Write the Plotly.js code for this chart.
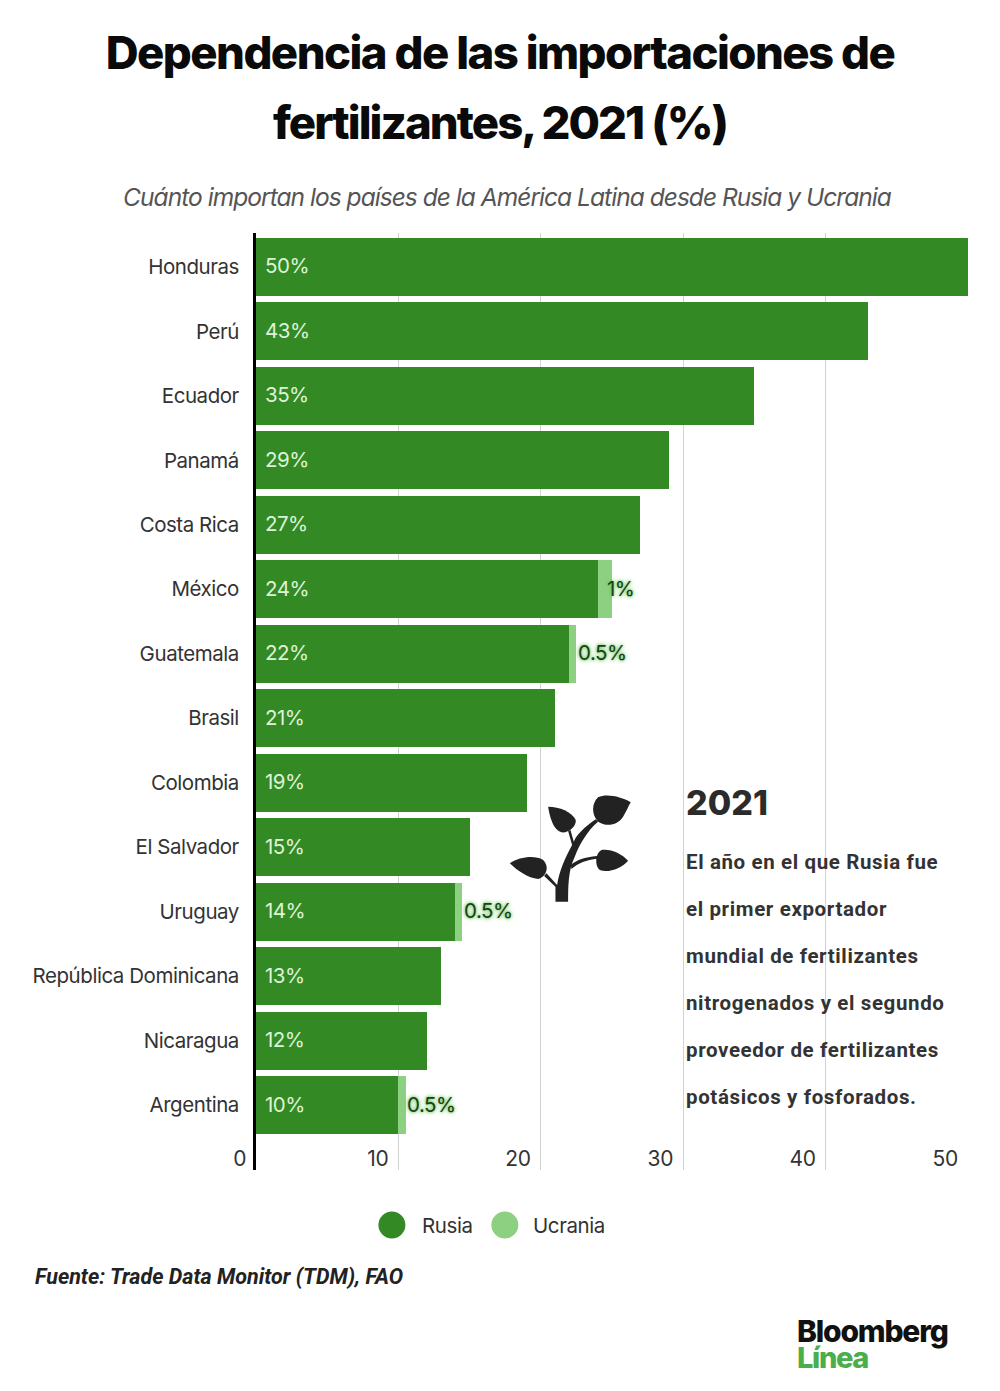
<!DOCTYPE html>
<html><head><meta charset="utf-8">
<script src="https://cdn.plot.ly/plotly-3.0.1.min.js"></script>
<style>
html,body{margin:0;padding:0;background:#fff}
#chart{width:1000px;height:1391px}
.ytick text{letter-spacing:-0.45px}
.xtick text{letter-spacing:-0.3px}
text.gtitle{letter-spacing:-1.55px}
</style></head><body><div id="chart"></div>
<script>
const W = 1000, H = 1391;
const countries = ["Honduras","Perú","Ecuador","Panamá","Costa Rica","México","Guatemala","Brasil","Colombia","El Salvador","Uruguay","República Dominicana","Nicaragua","Argentina"];
const rusia   = [50,43,35,29,27,24,22,21,19,15,14,13,12,10];
const ucrania = [0,0,0,0,0,1,0.5,0,0,0,0.5,0,0,0.5];
const xTicks  = [10,20,30,40,50];
const titleLines = ["Dependencia de las importaciones de","fertilizantes, 2021 (%)"];
const subtitle = "Cuánto importan los países de la América Latina desde Rusia y Ucrania";
const source = "Fuente: Trade Data Monitor (TDM), FAO";
const noteYear = "2021";
const noteLines = ["El año en el que Rusia fue","el primer exportador","mundial de fertilizantes","nitrogenados y el segundo","proveedor de fertilizantes","potásicos y fosforados."];
const seriesNames = ["Rusia","Ucrania"];
const DARK = "#338a25", LIGHT = "#8ed081", INK = "#333333";

const L = 256, T = 233, PW = 712.5, PH = 937;
const px = v => (v - L) / PW, py = v => 1 - (v - T) / PH;
const anns = [], spacing = [];
function note(text, x, y, size, color, opts, ls){
  anns.push(Object.assign({text, x:px(x), y:py(y), xref:"paper", yref:"paper", showarrow:false,
    xanchor:"left", yanchor:"middle", font:{family:"Inter", size, color}}, opts||{}));
  spacing.push(ls||0);
}
countries.forEach((c,i)=>{
  anns.push({text:rusia[i]+"%", x:0, y:c, xref:"x", yref:"y", xshift:7, yshift:1, showarrow:false, xanchor:"left", yanchor:"middle",
    font:{family:"Inter", size:20.5, color:"#dff2d8"}});
  spacing.push(-0.5);
  if(ucrania[i]>0){
    anns.push({text:ucrania[i]+"%", x:rusia[i], y:c, xref:"x", yref:"y", xshift:7, yshift:1, showarrow:false, xanchor:"left", yanchor:"middle",
      font:{family:"Inter", size:20.5, color:"#1a4016", shadow:"0 0 3px #6cc85c, 0 0 5px #6cc85c"}});
    spacing.push(-0.5);
  }
});
note(subtitle, 507, 197, 24.5, "#555555", {xanchor:"center", font:{family:"Inter", size:24.5, color:"#555555", style:"italic"}}, -0.96);
note("0", 248, 1158, 21, INK, {xanchor:"right"}, -0.3);
note(seriesNames[0], 420, 1225, 20.5, INK, null, -0.4);
note(seriesNames[1], 531.5, 1225, 20.5, INK, null, -0.4);
note(source, 33, 1276, 20, "#222222", {font:{family:"Roboto", size:21.5, color:"#222222", style:"italic", weight:700}}, 0);
note(noteYear, 684, 802, 36, "#2b2b2b", {font:{family:"Inter", size:34, color:"#2b2b2b", weight:800}}, 0);
noteLines.forEach((t,i)=> note(t, 684, [862,909,956,1003,1050,1097][i], 20, "#333333", {font:{family:"Roboto", size:20.5, color:"#333333", weight:700}}, 0.62));
note("Bloomberg", 795.5, 1331, 30, "#111111", {font:{family:"Inter", size:30, color:"#111111", weight:800}}, -1.2);
note("Línea", 795.5, 1357, 29, "#4aae4a", {font:{family:"Inter", size:29, color:"#4aae4a", weight:800}}, -1.35);

const legendDots = [[392,DARK],[505,LIGHT]].map(([x,c])=>({type:"circle", xref:"paper", yref:"paper",
  x0:px(x-13.5), x1:px(x+13.5), y0:py(1225+13.5), y1:py(1225-13.5), fillcolor:c, line:{width:0}}));

const plant = `<svg xmlns="http://www.w3.org/2000/svg" viewBox="0 0 600 450" width="600" height="450"><g fill="#222222">
<path d="M167 395L205 395C205 350 205 300 225 260C240 220 265 180 295 155L288 148C255 170 230 195 222 215L212 180L205 183L217 225C195 265 178 305 172 345L140 310L133 318L167 350Z"/>
<path d="M215 297C235 278 260 270 292 266L292 258C255 262 230 270 213 285Z"/>
<path d="M393 97C365 80 320 70 295 82C275 100 275 135 295 155C320 172 355 165 370 140C380 125 385 110 393 97Z"/>
<path d="M145 110C180 110 215 125 228 150C230 170 205 190 185 187C160 180 150 140 145 110Z"/>
<path d="M385 272C365 250 330 235 305 240C285 250 285 290 300 300C325 310 365 295 385 272Z"/>
<path d="M30 280C60 260 105 255 130 270C150 290 140 320 115 327C85 325 50 300 30 280Z"/>
</g></svg>`;

const traces = [
  {type:"bar", orientation:"h", name:seriesNames[0], y:countries, x:rusia, width:0.9, marker:{color:DARK, line:{width:0}}, hoverinfo:"x+y+name"},
  {type:"bar", orientation:"h", name:seriesNames[1], y:countries, x:ucrania, width:0.9, marker:{color:LIGHT, line:{width:0}}, hoverinfo:"x+y+name"}
];
const layout = {
  width:W, height:H, autosize:false, paper_bgcolor:"#fff", plot_bgcolor:"#fff", showlegend:false, barmode:"stack",
  margin:{l:L, r:W-L-PW, t:T, b:H-T-PH, pad:0},
  title:{text:titleLines.join("<br>"), x:0.5, xref:"container", xanchor:"center", y:1-69/H, yref:"container", yanchor:"middle",
    font:{family:"Inter", size:45.5, color:"#0a0a0a", weight:800}},
  xaxis:{range:[0,50], tickvals:xTicks, ticktext:xTicks.map(String), ticks:"", ticklabelposition:"inside left", ticklabelshift:-10, ticklabelstandoff:-6,
    tickfont:{family:"Inter", size:21, color:INK}, showgrid:true, gridcolor:"#d2d2d2", gridwidth:1, zeroline:false, showline:false, fixedrange:true},
  yaxis:{type:"category", categoryorder:"array", categoryarray:countries, range:[14.008,-0.527], ticks:"", ticklabelstandoff:10,
    tickfont:{family:"Inter", size:20.5, color:INK}, showgrid:false, showline:true, linecolor:"#000", linewidth:3, zeroline:false, fixedrange:true},
  annotations:anns, shapes:legendDots,
  images:[{source:"data:image/svg+xml;base64,"+btoa(plant), xref:"paper", yref:"paper", x:px(500), y:py(770), sizex:200/PW, sizey:150/PH, xanchor:"left", yanchor:"top", sizing:"stretch", layer:"above"}]
};
Plotly.newPlot("chart", traces, layout, {displayModeBar:false, staticPlot:true}).then(gd=>{
  gd.querySelectorAll("text.annotation-text").forEach((t,i)=>{
    if(!spacing[i]) return;
    const before = t.getBBox().x;
    t.style.letterSpacing = spacing[i]+"px";
    if(anns[i].xanchor === "left"){
      const after = t.getBBox().x;
      t.setAttribute("x", parseFloat(t.getAttribute("x")) + (before - after));
    }
  });
  gd.querySelectorAll("text.gtitle tspan.line").forEach((t,i)=>{ if(i>0){ t.setAttribute("dy","70px"); t.style.letterSpacing="-1.95px"; } });
});
</script></body></html>
